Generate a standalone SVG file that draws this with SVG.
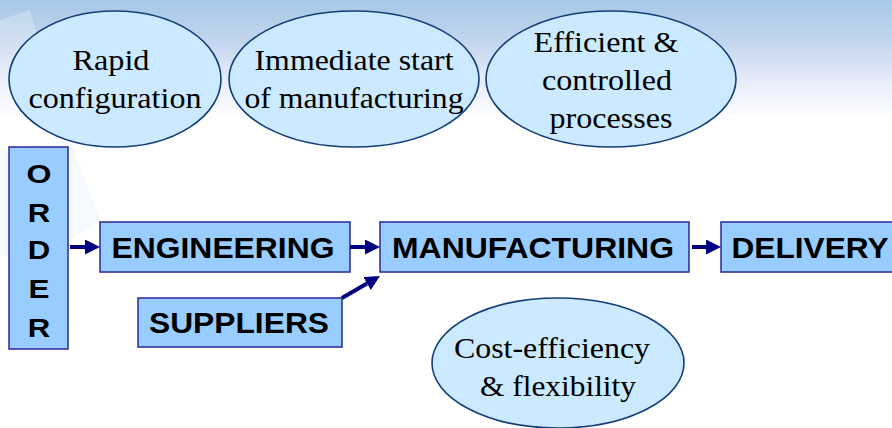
<svg xmlns="http://www.w3.org/2000/svg" width="892" height="428" viewBox="0 0 892 428">
<defs>
<linearGradient id="bg" x1="0" y1="0" x2="0" y2="1">
<stop offset="0" stop-color="#a6c8e6"/>
<stop offset="0.1" stop-color="#c4d6ef"/>
<stop offset="0.18" stop-color="#e3eaf8"/>
<stop offset="0.28" stop-color="#ffffff"/>
<stop offset="1" stop-color="#ffffff"/>
</linearGradient>
<marker id="ah" markerUnits="userSpaceOnUse" markerWidth="16" markerHeight="16" refX="0" refY="7.5" orient="auto">
<path d="M0,0 L15,7.5 L0,15 Z" fill="#000080"/>
</marker>
<style>
.ell{fill:#cceaff;stroke:#123d78;stroke-width:1.6}
.box{fill:#99ccff;stroke:#3333a0;stroke-width:1.6}
.st{font-family:"Liberation Serif","Times New Roman",serif;font-size:30px;fill:#000;text-anchor:middle}
.bt{font-family:"Liberation Sans",Arial,sans-serif;font-weight:bold;font-size:30px;fill:#000;text-anchor:middle}
.ot{font-family:"Liberation Sans",Arial,sans-serif;font-weight:bold;font-size:26px;fill:#000;text-anchor:middle}
.con{stroke:#000080;stroke-width:4;fill:none;marker-end:url(#ah)}
</style>
</defs>
<rect x="0" y="0" width="892" height="428" fill="url(#bg)"/>
<polygon points="0,20 30,10 60,120 30,135 0,130" fill="#ffffff" opacity="0.25"/>
<polygon points="0,150 70,140 100,220 40,260 0,255" fill="#e8f1fb" opacity="0.4"/>

<g id="rapid-configuration">
<ellipse class="ell" cx="115" cy="79" rx="106" ry="68"/>
<text class="st" x="111" y="70" textLength="77" lengthAdjust="spacingAndGlyphs">Rapid</text>
<text class="st" x="115" y="108" textLength="173" lengthAdjust="spacingAndGlyphs">configuration</text>
</g>
<g id="immediate-start">
<ellipse class="ell" cx="354" cy="79" rx="125" ry="68"/>
<text class="st" x="354" y="70" textLength="199" lengthAdjust="spacingAndGlyphs">Immediate start</text>
<text class="st" x="354" y="108" textLength="219" lengthAdjust="spacingAndGlyphs">of manufacturing</text>
</g>
<g id="efficient-processes">
<ellipse class="ell" cx="611" cy="79" rx="125" ry="68"/>
<text class="st" x="606" y="52" textLength="145" lengthAdjust="spacingAndGlyphs">Efficient &amp;</text>
<text class="st" x="607" y="90" textLength="130" lengthAdjust="spacingAndGlyphs">controlled</text>
<text class="st" x="611" y="128" textLength="123" lengthAdjust="spacingAndGlyphs">processes</text>
</g>
<g id="cost-efficiency">
<ellipse class="ell" cx="558" cy="363" rx="126" ry="65"/>
<text class="st" x="552" y="358" textLength="196" lengthAdjust="spacingAndGlyphs">Cost-efficiency</text>
<text class="st" x="558" y="396" textLength="156" lengthAdjust="spacingAndGlyphs">&amp; flexibility</text>
</g>

<g id="order">
<rect class="box" x="9" y="147" width="59" height="202"/>
<text class="ot" x="39" y="183" textLength="25" lengthAdjust="spacingAndGlyphs">O</text>
<text class="ot" x="39" y="222" textLength="22.5" lengthAdjust="spacingAndGlyphs">R</text>
<text class="ot" x="39" y="259" textLength="22.5" lengthAdjust="spacingAndGlyphs">D</text>
<text class="ot" x="39" y="298" textLength="21" lengthAdjust="spacingAndGlyphs">E</text>
<text class="ot" x="39" y="337" textLength="22.5" lengthAdjust="spacingAndGlyphs">R</text>
</g>
<g id="engineering">
<rect class="box" x="100" y="222" width="250" height="50"/>
<text class="bt" x="223" y="258" textLength="223" lengthAdjust="spacingAndGlyphs">ENGINEERING</text>
</g>
<g id="manufacturing">
<rect class="box" x="380" y="222" width="309" height="50"/>
<text class="bt" x="533" y="258" textLength="282" lengthAdjust="spacingAndGlyphs">MANUFACTURING</text>
</g>
<g id="delivery">
<rect class="box" x="721" y="222" width="180" height="50"/>
<text class="bt" x="810" y="258" textLength="157" lengthAdjust="spacingAndGlyphs">DELIVERY</text>
</g>
<g id="suppliers">
<rect class="box" x="138" y="298" width="204" height="49"/>
<text class="bt" x="239" y="333" textLength="180" lengthAdjust="spacingAndGlyphs">SUPPLIERS</text>
</g>

<g id="connectors">
<line class="con" x1="70" y1="247" x2="85" y2="247"/>
<line class="con" x1="350" y1="247" x2="365" y2="247"/>
<line class="con" x1="692" y1="247" x2="706" y2="247"/>
<line class="con" x1="342" y1="298" x2="367" y2="283.5"/>
</g>
</svg>
